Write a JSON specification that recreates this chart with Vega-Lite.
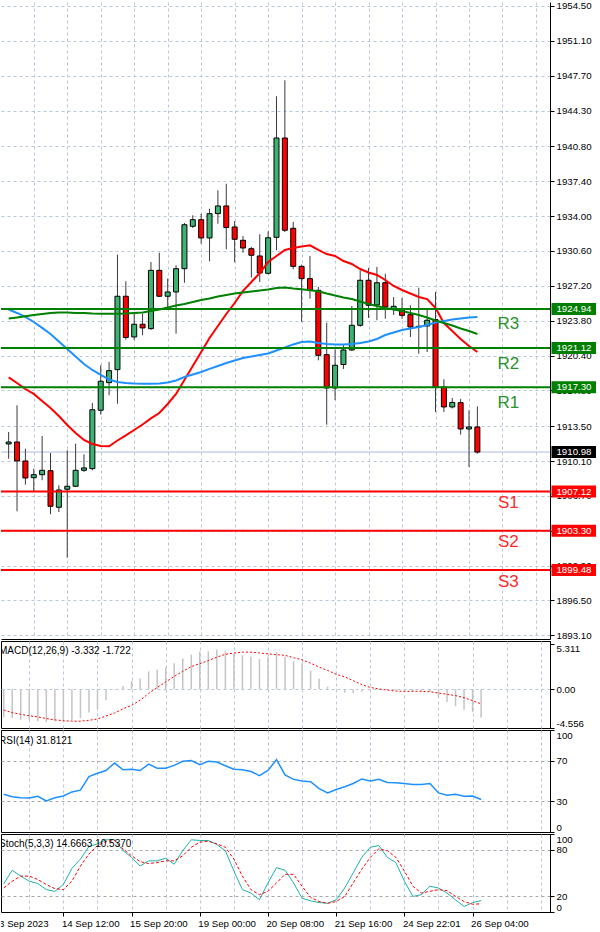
{
"$schema": "https://vega.github.io/schema/vega-lite/v6.json",
"padding": 0,
"background": "#ffffff",
"bounds": "flush",
"spacing": 2,
"config": {
  "view": {"stroke": "#000000", "strokeWidth": 1},
  "axis": {"labelFont": "Liberation Sans", "labelFontSize": 9.7, "labelColor": "#000000", "tickColor": "#000000", "domainColor": "#000000", "labelOverlap": false, "gridColor": "#b9c7de", "gridDash": [3, 3], "gridWidth": 1, "tickSize": 4, "labelPadding": 2},
  "text": {"font": "Liberation Sans"}
},
"datasets": {
  "bars": [
{"n":0,"o":1911.77,"h":1912.94,"l":1910.33,"c":1911.96,"mr":1918.26,"mb":1924.89,"mg":1924.01,"macd":-3.31,"sig":-2.45,"rsi":37,"k":36,"d":30.8},
{"n":1,"o":1911.96,"h":1915.54,"l":1905.20,"c":1910.11,"mr":1917.72,"mb":1924.55,"mg":1924.11,"macd":-3.39,"sig":-2.75,"rsi":34.5,"k":53.5,"d":39.5},
{"n":2,"o":1910.11,"h":1911.31,"l":1907.80,"c":1908.45,"mr":1917.13,"mb":1924.16,"mg":1924.23,"macd":-3.58,"sig":-2.95,"rsi":33.5,"k":46,"d":46},
{"n":3,"o":1908.48,"h":1909.36,"l":1907.09,"c":1908.77,"mr":1916.65,"mb":1923.67,"mg":1924.35,"macd":-3.65,"sig":-3.12,"rsi":33.3,"k":39.5,"d":46},
{"n":4,"o":1908.77,"h":1912.55,"l":1908.23,"c":1909.20,"mr":1915.96,"mb":1923.09,"mg":1924.45,"macd":-3.77,"sig":-3.25,"rsi":35,"k":36.5,"d":41.7},
{"n":5,"o":1909.16,"h":1910.89,"l":1904.91,"c":1905.69,"mr":1915.28,"mb":1922.50,"mg":1924.55,"macd":-3.88,"sig":-3.45,"rsi":30.5,"k":28.7,"d":35.2},
{"n":6,"o":1905.59,"h":1907.74,"l":1905.13,"c":1907.28,"mr":1914.50,"mb":1921.77,"mg":1924.60,"macd":-3.77,"sig":-3.6,"rsi":33.6,"k":26.5,"d":30},
{"n":7,"o":1907.35,"h":1911.15,"l":1900.68,"c":1907.64,"mr":1913.62,"mb":1921.04,"mg":1924.60,"macd":-3.65,"sig":-3.7,"rsi":35.3,"k":35.2,"d":28.7},
{"n":8,"o":1907.64,"h":1911.80,"l":1907.57,"c":1909.20,"mr":1912.84,"mb":1920.30,"mg":1924.55,"macd":-3.58,"sig":-3.75,"rsi":39.3,"k":56,"d":39.5},
{"n":9,"o":1909.20,"h":1910.76,"l":1909.04,"c":1909.43,"mr":1912.16,"mb":1919.57,"mg":1924.55,"macd":-3.39,"sig":-3.76,"rsi":41,"k":67.8,"d":59},
{"n":10,"o":1909.36,"h":1915.77,"l":1909.20,"c":1915.11,"mr":1911.77,"mb":1918.99,"mg":1924.50,"macd":-2.74,"sig":-3.65,"rsi":54.3,"k":83.9,"d":74.3},
{"n":11,"o":1915.06,"h":1919.45,"l":1914.63,"c":1917.89,"mr":1911.57,"mb":1918.50,"mg":1924.48,"macd":-2.25,"sig":-3.5,"rsi":57.6,"k":87.4,"d":85.2},
{"n":12,"o":1917.75,"h":1919.77,"l":1916.52,"c":1918.92,"mr":1911.54,"mb":1918.06,"mg":1924.48,"macd":-1.31,"sig":-3.15,"rsi":60.3,"k":92.6,"d":90.5},
{"n":13,"o":1919.02,"h":1930.24,"l":1915.70,"c":1926.18,"mr":1912.11,"mb":1917.82,"mg":1924.48,"macd":-0.05,"sig":-2.8,"rsi":67.6,"k":92.6,"d":91.5},
{"n":14,"o":1926.18,"h":1927.64,"l":1921.94,"c":1922.16,"mr":1912.60,"mb":1917.72,"mg":1924.50,"macd":0.39,"sig":-2.3,"rsi":61,"k":78.6,"d":80.9},
{"n":15,"o":1922.21,"h":1924.48,"l":1921.90,"c":1923.45,"mr":1913.13,"mb":1917.67,"mg":1924.55,"macd":0.96,"sig":-1.9,"rsi":61.6,"k":70,"d":72.1},
{"n":16,"o":1923.45,"h":1924.48,"l":1922.37,"c":1923.09,"mr":1913.67,"mb":1917.65,"mg":1924.60,"macd":1.26,"sig":-1.3,"rsi":60.3,"k":59,"d":64.7},
{"n":17,"o":1923.02,"h":1929.52,"l":1922.90,"c":1928.71,"mr":1914.26,"mb":1917.65,"mg":1924.74,"macd":2.10,"sig":-0.5,"rsi":66.6,"k":65.6,"d":62.1},
{"n":18,"o":1928.71,"h":1930.43,"l":1926.11,"c":1926.18,"mr":1914.79,"mb":1917.67,"mg":1924.89,"macd":2.28,"sig":0.2,"rsi":62.6,"k":65.6,"d":63.4},
{"n":19,"o":1926.18,"h":1927.90,"l":1924.97,"c":1926.60,"mr":1915.67,"mb":1917.77,"mg":1925.09,"macd":2.55,"sig":0.85,"rsi":62.6,"k":69,"d":65.6},
{"n":20,"o":1926.60,"h":1929.20,"l":1922.53,"c":1928.87,"mr":1916.65,"mb":1917.96,"mg":1925.28,"macd":3.04,"sig":1.5,"rsi":65.3,"k":61.3,"d":65.6},
{"n":21,"o":1928.87,"h":1933.33,"l":1927.50,"c":1933.16,"mr":1918.01,"mb":1918.30,"mg":1925.43,"macd":3.61,"sig":2.1,"rsi":69.3,"k":78.6,"d":72.1},
{"n":22,"o":1933.01,"h":1934.08,"l":1932.84,"c":1933.65,"mr":1919.38,"mb":1918.55,"mg":1925.62,"macd":4.06,"sig":2.65,"rsi":70,"k":92.6,"d":83},
{"n":23,"o":1933.65,"h":1934.24,"l":1931.31,"c":1931.87,"mr":1920.74,"mb":1918.79,"mg":1925.82,"macd":4.44,"sig":3.0,"rsi":66,"k":91.7,"d":89.5},
{"n":24,"o":1931.87,"h":1934.72,"l":1929.59,"c":1934.24,"mr":1922.11,"mb":1919.09,"mg":1925.96,"macd":4.44,"sig":3.35,"rsi":69.3,"k":91.7,"d":90.8},
{"n":25,"o":1934.24,"h":1936.52,"l":1933.26,"c":1934.99,"mr":1923.28,"mb":1919.38,"mg":1926.16,"macd":4.66,"sig":3.75,"rsi":68.6,"k":86.5,"d":87.4},
{"n":26,"o":1934.99,"h":1937.16,"l":1930.76,"c":1932.89,"mr":1924.45,"mb":1919.67,"mg":1926.30,"macd":4.44,"sig":4.1,"rsi":65,"k":78.6,"d":83},
{"n":27,"o":1932.94,"h":1933.52,"l":1929.50,"c":1931.74,"mr":1925.52,"mb":1919.91,"mg":1926.45,"macd":4.17,"sig":4.25,"rsi":61.6,"k":52.6,"d":67.8},
{"n":28,"o":1931.64,"h":1932.06,"l":1930.43,"c":1930.89,"mr":1926.70,"mb":1920.16,"mg":1926.55,"macd":3.98,"sig":4.35,"rsi":61,"k":28.7,"d":46},
{"n":29,"o":1930.82,"h":1931.00,"l":1928.01,"c":1930.18,"mr":1927.57,"mb":1920.30,"mg":1926.65,"macd":3.80,"sig":4.35,"rsi":59.3,"k":24.3,"d":28.7},
{"n":30,"o":1930.11,"h":1932.23,"l":1927.57,"c":1928.45,"mr":1928.45,"mb":1920.45,"mg":1926.74,"macd":3.53,"sig":4.25,"rsi":55.3,"k":15.6,"d":22.2},
{"n":31,"o":1928.42,"h":1932.52,"l":1928.30,"c":1931.89,"mr":1929.52,"mb":1920.60,"mg":1926.84,"macd":3.80,"sig":4.15,"rsi":60.3,"k":37.3,"d":26.5},
{"n":32,"o":1931.93,"h":1945.69,"l":1930.67,"c":1941.62,"mr":1930.11,"mb":1920.89,"mg":1926.99,"macd":4.37,"sig":4.05,"rsi":71,"k":56.9,"d":37.3},
{"n":33,"o":1941.62,"h":1947.25,"l":1932.45,"c":1932.62,"mr":1930.70,"mb":1921.18,"mg":1927.04,"macd":3.80,"sig":3.98,"rsi":56,"k":53.5,"d":48.3},
{"n":34,"o":1932.81,"h":1933.43,"l":1928.81,"c":1929.10,"mr":1930.89,"mb":1921.48,"mg":1926.94,"macd":3.30,"sig":3.7,"rsi":51.6,"k":37.3,"d":48.3},
{"n":35,"o":1929.10,"h":1929.26,"l":1923.67,"c":1927.90,"mr":1931.04,"mb":1921.72,"mg":1926.86,"macd":3.04,"sig":3.45,"rsi":50,"k":17.7,"d":33},
{"n":36,"o":1927.90,"h":1930.11,"l":1925.94,"c":1926.76,"mr":1931.15,"mb":1921.77,"mg":1926.76,"macd":2.17,"sig":3.05,"rsi":49.3,"k":14.3,"d":18.6},
{"n":37,"o":1926.76,"h":1927.09,"l":1919.93,"c":1920.42,"mr":1930.70,"mb":1921.62,"mg":1926.67,"macd":1.22,"sig":2.6,"rsi":42.6,"k":12.1,"d":13.4},
{"n":38,"o":1920.48,"h":1923.60,"l":1913.65,"c":1917.23,"mr":1930.30,"mb":1921.52,"mg":1926.45,"macd":0.28,"sig":2.2,"rsi":38.3,"k":11.2,"d":11.2},
{"n":39,"o":1917.23,"h":1921.01,"l":1916.06,"c":1919.45,"mr":1930.11,"mb":1921.48,"mg":1926.26,"macd":0.05,"sig":1.75,"rsi":41.6,"k":15.6,"d":13.4},
{"n":40,"o":1919.52,"h":1921.43,"l":1919.09,"c":1920.94,"mr":1929.62,"mb":1921.48,"mg":1926.06,"macd":-0.40,"sig":1.45,"rsi":44.3,"k":30.8,"d":20},
{"n":41,"o":1920.94,"h":1925.23,"l":1920.85,"c":1923.35,"mr":1929.33,"mb":1921.52,"mg":1925.91,"macd":-0.45,"sig":1.0,"rsi":47.6,"k":50.3,"d":37.3},
{"n":42,"o":1923.35,"h":1928.71,"l":1923.20,"c":1927.74,"mr":1928.84,"mb":1921.62,"mg":1925.67,"macd":-0.30,"sig":0.55,"rsi":52,"k":70,"d":54.8},
{"n":43,"o":1927.74,"h":1928.94,"l":1924.06,"c":1925.30,"mr":1928.50,"mb":1921.77,"mg":1925.43,"macd":-0.12,"sig":0.2,"rsi":50,"k":83,"d":70},
{"n":44,"o":1925.33,"h":1929.04,"l":1923.84,"c":1927.50,"mr":1928.26,"mb":1922.01,"mg":1925.23,"macd":-0.08,"sig":0.03,"rsi":51.6,"k":85.2,"d":80.9},
{"n":45,"o":1927.50,"h":1928.38,"l":1923.99,"c":1925.13,"mr":1927.77,"mb":1922.40,"mg":1925.04,"macd":-0.10,"sig":-0.1,"rsi":48.6,"k":70,"d":78.6},
{"n":46,"o":1924.97,"h":1926.11,"l":1924.35,"c":1925.20,"mr":1927.18,"mb":1922.65,"mg":1924.89,"macd":-0.12,"sig":-0.22,"rsi":48.3,"k":63.4,"d":70},
{"n":47,"o":1924.91,"h":1926.01,"l":1923.99,"c":1924.32,"mr":1926.79,"mb":1922.89,"mg":1924.74,"macd":-0.15,"sig":-0.25,"rsi":47.6,"k":39.5,"d":52.6},
{"n":48,"o":1924.38,"h":1925.30,"l":1922.21,"c":1923.18,"mr":1926.45,"mb":1923.04,"mg":1924.55,"macd":-0.20,"sig":-0.25,"rsi":46.6,"k":20,"d":33},
{"n":49,"o":1923.18,"h":1927.02,"l":1920.58,"c":1923.25,"mr":1926.11,"mb":1923.18,"mg":1924.35,"macd":-0.25,"sig":-0.25,"rsi":46.6,"k":22.2,"d":24.3},
{"n":50,"o":1923.28,"h":1925.03,"l":1920.74,"c":1923.84,"mr":1925.91,"mb":1923.38,"mg":1924.11,"macd":-0.28,"sig":-0.3,"rsi":47.6,"k":33,"d":26.5},
{"n":51,"o":1923.90,"h":1926.60,"l":1914.89,"c":1917.33,"mr":1925.04,"mb":1923.62,"mg":1923.82,"macd":-1.0,"sig":-0.45,"rsi":38.3,"k":30.8,"d":28.7},
{"n":52,"o":1917.33,"h":1918.08,"l":1914.89,"c":1915.38,"mr":1923.57,"mb":1923.77,"mg":1923.57,"macd":-1.5,"sig":-0.6,"rsi":36,"k":24.3,"d":27.4},
{"n":53,"o":1915.38,"h":1916.26,"l":1915.23,"c":1915.82,"mr":1922.79,"mb":1923.91,"mg":1923.33,"macd":-2.0,"sig":-0.75,"rsi":37,"k":15.6,"d":20},
{"n":54,"o":1915.80,"h":1916.16,"l":1912.68,"c":1913.23,"mr":1922.01,"mb":1924.01,"mg":1923.04,"macd":-2.4,"sig":-1.0,"rsi":35,"k":7,"d":13.4},
{"n":55,"o":1913.23,"h":1915.06,"l":1909.52,"c":1913.43,"mr":1921.33,"mb":1924.11,"mg":1922.79,"macd":-2.7,"sig":-1.35,"rsi":35.3,"k":12,"d":9.9},
{"n":56,"o":1913.43,"h":1915.43,"l":1910.82,"c":1910.98,"mr":1920.74,"mb":1924.16,"mg":1922.50,"macd":-3.332,"sig":-1.722,"rsi":31.8121,"k":14.6663,"d":10.537}
  ],
  "levels": [
    {"name": "R3", "price": 1924.94, "kind": "R"},
    {"name": "R2", "price": 1921.12, "kind": "R"},
    {"name": "R1", "price": 1917.30, "kind": "R"},
    {"name": "S1", "price": 1907.12, "kind": "S"},
    {"name": "S2", "price": 1903.30, "kind": "S"},
    {"name": "S3", "price": 1899.48, "kind": "S"},
    {"name": "Bid", "price": 1910.98, "kind": "B"}
  ],
  "xlabels": [
    {"n": -1, "label": "13 Sep 2023"},
    {"n": 7, "label": "14 Sep 12:00"},
    {"n": 15, "label": "15 Sep 20:00"},
    {"n": 23, "label": "19 Sep 00:00"},
    {"n": 31, "label": "20 Sep 08:00"},
    {"n": 39, "label": "21 Sep 16:00"},
    {"n": 47, "label": "24 Sep 22:01"},
    {"n": 55, "label": "26 Sep 04:00"}
  ]
},
"vconcat": [
  {
    "width": 549, "height": 637,
    "view": {"stroke": null},
    "layer": [
      {
        "data": {"name": "levels"},
        "transform": [{"filter": "datum.kind == 'B'"}],
        "mark": {"type": "rule", "color": "#a9bcdc", "strokeWidth": 1},
        "encoding": {
          "y": {"field": "price", "type": "quantitative", "title": null,
                "scale": {"domain": [1892.74, 1954.89], "nice": false, "zero": false},
                "axis": {"orient": "right", "tickCount": 100, "values": [1954.5, 1951.1, 1947.7, 1944.3, 1940.8, 1937.4, 1934.0, 1930.6, 1927.2, 1923.8, 1920.4, 1917.0, 1913.5, 1910.1, 1906.7, 1903.3, 1899.9, 1896.5, 1893.1], "format": ".2f", "grid": true, "title": null}}
        }
      },
      {
        "data": {"name": "bars"},
        "mark": {"type": "rule", "color": "#3a3a3a", "strokeWidth": 1},
        "encoding": {
          "x": {"field": "n", "type": "quantitative", "title": null,
                "scale": {"domain": [-0.317, 64.08], "nice": false, "zero": false},
                "axis": {"orient": "bottom", "tickCount": 100, "values": [3, 7, 11, 15, 19, 23, 27, 31, 35, 39, 43, 47, 51, 55, 59, 63], "grid": true, "ticks": false, "labels": false, "domain": true, "title": null}},
          "y": {"field": "l", "type": "quantitative", "title": null, "scale": {"domain": [1892.74, 1954.89], "nice": false, "zero": false}},
          "y2": {"field": "h"}
        }
      },
      {
        "data": {"name": "bars"},
        "mark": {"type": "bar", "size": 5, "stroke": "#000000", "strokeWidth": 1, "orient": "vertical"},
        "encoding": {
          "x": {"field": "n", "type": "quantitative", "title": null, "scale": {"domain": [-0.317, 64.08], "nice": false, "zero": false}},
          "y": {"field": "o", "type": "quantitative", "title": null, "scale": {"domain": [1892.74, 1954.89], "nice": false, "zero": false}},
          "y2": {"field": "c"},
          "fill": {"condition": {"test": "datum.c >= datum.o", "value": "#3cb371"}, "value": "#ff0000"}
        }
      },
      {
        "data": {"name": "bars"},
        "mark": {"type": "line", "color": "#ff0000", "strokeWidth": 2},
        "encoding": {
          "x": {"field": "n", "type": "quantitative", "title": null, "scale": {"domain": [-0.317, 64.08], "nice": false, "zero": false}},
          "y": {"field": "mr", "type": "quantitative", "title": null, "scale": {"domain": [1892.74, 1954.89], "nice": false, "zero": false}}
        }
      },
      {
        "data": {"name": "bars"},
        "mark": {"type": "line", "color": "#1e90ff", "strokeWidth": 2},
        "encoding": {
          "x": {"field": "n", "type": "quantitative", "title": null, "scale": {"domain": [-0.317, 64.08], "nice": false, "zero": false}},
          "y": {"field": "mb", "type": "quantitative", "title": null, "scale": {"domain": [1892.74, 1954.89], "nice": false, "zero": false}}
        }
      },
      {
        "data": {"name": "bars"},
        "mark": {"type": "line", "color": "#008000", "strokeWidth": 2},
        "encoding": {
          "x": {"field": "n", "type": "quantitative", "title": null, "scale": {"domain": [-0.317, 64.08], "nice": false, "zero": false}},
          "y": {"field": "mg", "type": "quantitative", "title": null, "scale": {"domain": [1892.74, 1954.89], "nice": false, "zero": false}}
        }
      },
      {
        "data": {"name": "levels"},
        "transform": [{"filter": "datum.kind != 'B'"}],
        "mark": {"type": "rule", "strokeWidth": 2},
        "encoding": {
          "y": {"field": "price", "type": "quantitative", "title": null, "scale": {"domain": [1892.74, 1954.89], "nice": false, "zero": false}},
          "color": {"condition": {"test": "datum.kind == 'R'", "value": "#008000"}, "value": "#ff0000"}
        }
      },
      {
        "data": {"name": "levels"},
        "transform": [{"filter": "datum.kind == 'R'"}],
        "mark": {"type": "text", "align": "center", "baseline": "middle", "fontSize": 17, "dy": 15.5, "color": "#2a922a"},
        "encoding": {
          "x": {"datum": 59.7, "type": "quantitative"},
          "y": {"field": "price", "type": "quantitative", "title": null, "scale": {"domain": [1892.74, 1954.89], "nice": false, "zero": false}},
          "text": {"field": "name"}
        }
      },
      {
        "data": {"name": "levels"},
        "transform": [{"filter": "datum.kind == 'S'"}],
        "mark": {"type": "text", "align": "center", "baseline": "middle", "fontSize": 17, "dy": 11.7, "color": "#ff2a2a"},
        "encoding": {
          "x": {"datum": 59.7, "type": "quantitative"},
          "y": {"field": "price", "type": "quantitative", "title": null, "scale": {"domain": [1892.74, 1954.89], "nice": false, "zero": false}},
          "text": {"field": "name"}
        }
      },
      {
        "data": {"name": "levels"},
        "mark": {"type": "rect", "xOffset": 1.5, "x2Offset": 46, "yOffset": -6, "y2Offset": 6},
        "encoding": {
          "x": {"value": "width"},
          "x2": {"value": "width"},
          "y": {"field": "price", "type": "quantitative", "title": null, "scale": {"domain": [1892.74, 1954.89], "nice": false, "zero": false}},
          "y2": {"field": "price"},
          "fill": {"condition": [{"test": "datum.kind == 'R'", "value": "#008000"}, {"test": "datum.kind == 'S'", "value": "#ff0000"}], "value": "#000000"}
        }
      },
      {
        "data": {"name": "levels"},
        "mark": {"type": "text", "align": "center", "baseline": "middle", "fontSize": 9.7, "dx": 24, "color": "#ffffff"},
        "encoding": {
          "x": {"value": "width"},
          "y": {"field": "price", "type": "quantitative", "title": null, "scale": {"domain": [1892.74, 1954.89], "nice": false, "zero": false}},
          "text": {"field": "price", "type": "quantitative", "format": ".2f"}
        }
      }
    ]
  },
  {
    "width": 549, "height": 87,
    "layer": [
      {
        "data": {"name": "bars"},
        "mark": {"type": "rule", "color": "#c4c4c4", "strokeWidth": 1.5},
        "encoding": {
          "x": {"field": "n", "type": "quantitative", "title": null,
                "scale": {"domain": [-0.317, 64.08], "nice": false, "zero": false},
                "axis": {"orient": "bottom", "tickCount": 100, "values": [3, 7, 11, 15, 19, 23, 27, 31, 35, 39, 43, 47, 51, 55, 59, 63], "grid": true, "ticks": false, "labels": false, "domain": false, "title": null}},
          "y": {"field": "macd", "type": "quantitative", "title": null,
                "scale": {"domain": [-4.556, 5.66], "nice": false, "zero": false},
                "axis": {"orient": "right", "tickCount": 100, "values": [-4.556, 0, 5.311], "labelExpr": "datum.value > 1 ? '5.311' : (datum.value < -1 ? '-4.556' : '0.00')", "grid": true, "gridOpacity": {"condition": {"test": "datum.value == 0", "value": 1}, "value": 0}, "labelBaseline": {"condition": [{"test": "datum.value > 1", "value": "top"}, {"test": "datum.value < -1", "value": "bottom"}], "value": "middle"}, "title": null}},
          "y2": {"datum": 0}
        }
      },
      {
        "data": {"name": "bars"},
        "mark": {"type": "line", "color": "#ff0000", "strokeWidth": 1, "strokeDash": [2, 2]},
        "encoding": {
          "x": {"field": "n", "type": "quantitative", "title": null, "scale": {"domain": [-0.317, 64.08], "nice": false, "zero": false}},
          "y": {"field": "sig", "type": "quantitative", "title": null, "scale": {"domain": [-4.556, 5.66], "nice": false, "zero": false}}
        }
      },
      {
        "data": {"values": [{"label": "MACD(12,26,9) -3.332 -1.722"}]},
        "mark": {"type": "text", "align": "left", "baseline": "middle", "fontSize": 10, "color": "#000000", "clip": true},
        "encoding": {
          "x": {"datum": -0.55, "type": "quantitative"},
          "y": {"datum": 4.5, "type": "quantitative"},
          "text": {"field": "label"}
        }
      }
    ]
  },
  {
    "width": 549, "height": 102,
    "layer": [
      {
        "data": {"name": "bars"},
        "mark": {"type": "line", "color": "#1e90ff", "strokeWidth": 1.5},
        "encoding": {
          "x": {"field": "n", "type": "quantitative", "title": null,
                "scale": {"domain": [-0.317, 64.08], "nice": false, "zero": false},
                "axis": {"orient": "bottom", "tickCount": 100, "values": [3, 7, 11, 15, 19, 23, 27, 31, 35, 39, 43, 47, 51, 55, 59, 63], "grid": true, "ticks": false, "labels": false, "domain": false, "title": null}},
          "y": {"field": "rsi", "type": "quantitative", "title": null,
                "scale": {"domain": [0, 100], "nice": false},
                "axis": {"orient": "right", "tickCount": 100, "values": [0, 30, 70, 100], "labelFlush": true, "grid": true, "gridColor": "#a8a8a8", "gridOpacity": {"condition": {"test": "datum.value == 30 || datum.value == 70", "value": 1}, "value": 0}, "title": null}}
        }
      },
      {
        "data": {"values": [{"label": "RSI(14) 31.8121"}]},
        "mark": {"type": "text", "align": "left", "baseline": "middle", "fontSize": 10, "color": "#000000", "clip": true},
        "encoding": {
          "x": {"datum": -0.55, "type": "quantitative"},
          "y": {"datum": 89, "type": "quantitative"},
          "text": {"field": "label"}
        }
      }
    ]
  },
  {
    "width": 549, "height": 78,
    "layer": [
      {
        "data": {"name": "bars"},
        "mark": {"type": "line", "color": "#20b2aa", "strokeWidth": 1},
        "encoding": {
          "x": {"field": "n", "type": "quantitative", "title": null,
                "scale": {"domain": [-0.317, 64.08], "nice": false, "zero": false},
                "axis": {"orient": "bottom", "tickCount": 100, "values": [3, 7, 11, 15, 19, 23, 27, 31, 35, 39, 43, 47, 51, 55, 59, 63], "grid": true, "ticks": true, "tickOpacity": {"condition": {"test": "datum.value >= 7 && datum.value <= 55 && (datum.value + 1) % 8 == 0", "value": 1}, "value": 0}, "labels": false, "domain": false, "title": null}},
          "y": {"field": "k", "type": "quantitative", "title": null,
                "scale": {"domain": [0, 100], "nice": false},
                "axis": {"orient": "right", "tickCount": 100, "values": [0, 20, 80, 100], "labelFlush": true, "grid": true, "gridColor": "#a8a8a8", "gridOpacity": {"condition": {"test": "datum.value == 20 || datum.value == 80", "value": 1}, "value": 0}, "title": null}}
        }
      },
      {
        "data": {"name": "bars"},
        "mark": {"type": "line", "color": "#ff0000", "strokeWidth": 1, "strokeDash": [3, 2]},
        "encoding": {
          "x": {"field": "n", "type": "quantitative", "title": null, "scale": {"domain": [-0.317, 64.08], "nice": false, "zero": false}},
          "y": {"field": "d", "type": "quantitative", "title": null, "scale": {"domain": [0, 100], "nice": false}}
        }
      },
      {
        "data": {"values": [{"label": "Stoch(5,3,3) 14.6663 10.5370"}]},
        "mark": {"type": "text", "align": "left", "baseline": "middle", "fontSize": 10, "color": "#000000", "clip": true},
        "encoding": {
          "x": {"datum": -0.55, "type": "quantitative"},
          "y": {"datum": 87.6, "type": "quantitative"},
          "text": {"field": "label"}
        }
      }
    ]
  },
  {
    "width": 549, "height": 20,
    "view": {"stroke": null},
    "data": {"name": "xlabels"},
    "mark": {"type": "text", "align": "left", "baseline": "middle", "dx": -1.5, "fontSize": 9.7, "color": "#000000", "clip": true},
    "encoding": {
      "x": {"field": "n", "type": "quantitative", "title": null, "scale": {"domain": [-0.317, 64.08], "nice": false, "zero": false}, "axis": null},
      "text": {"field": "label"}
    }
  }
]
}
